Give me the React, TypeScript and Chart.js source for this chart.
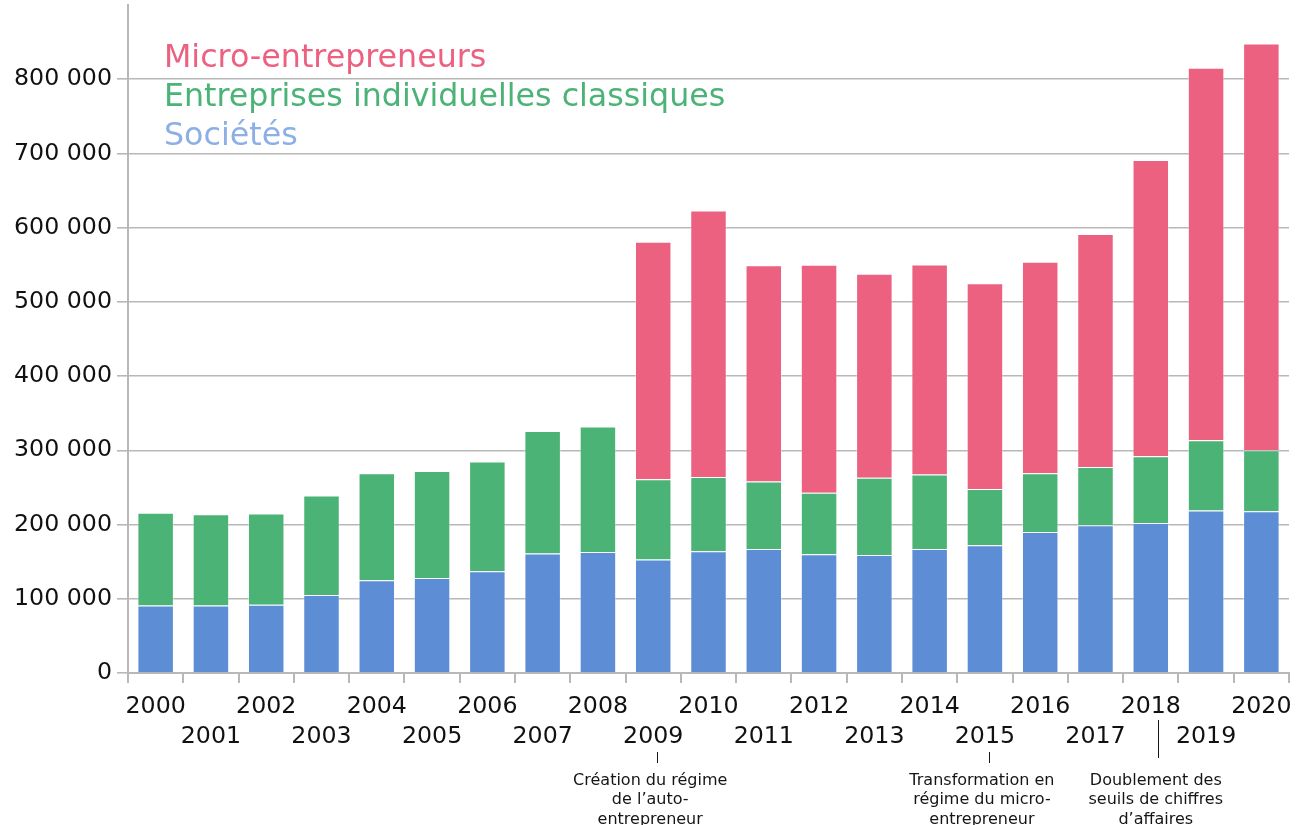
import React, { useEffect, useRef } from 'react';
import { Chart, registerables } from 'chart.js';

Chart.register(...registerables);

const categories = [
  '2000', '2001', '2002', '2003', '2004', '2005', '2006', '2007', '2008', '2009', '2010',
  '2011', '2012', '2013', '2014', '2015', '2016', '2017', '2018', '2019', '2020',
];

const societes = [
  91000, 91000, 92000, 105000, 125000, 128000, 137000, 161000, 163000, 153000, 164000,
  167000, 160000, 159000, 167000, 172000, 190000, 199000, 202000, 219000, 218000,
];

const eiClassiques = [
  125000, 123000, 123000, 134000, 144000, 144000, 148000, 165000, 169000, 108000, 100000,
  91000, 83000, 104000, 100500, 76000, 79000, 78500, 90000, 94500, 82000,
];

const microEntrepreneurs = [
  null, null, null, null, null, null, null, null, null, 320000, 359000,
  291500, 307000, 275000, 283000, 277000, 285000, 314000, 399000, 502000, 548000,
];

const seriesLabels = ['Sociétés', 'Entreprises individuelles classiques', 'Micro-entrepreneurs'];

const yMin = 0;
const yMax = 900000;
const yStep = 100000;

const annotations = [
  { year: '2009', lines: ['Création du régime', 'de l’auto-', 'entrepreneur'], tall: false },
  { year: '2015', lines: ['Transformation en', 'régime du micro-', 'entrepreneur'], tall: false },
  { year: '2018', lines: ['Doublement des', 'seuils de chiffres', 'd’affaires'], tall: true },
];

const COLORS = {
  micro: '#ec6080',
  ei: '#4bb375',
  soc: '#5d8ed5',
  socLegend: '#8cafe5',
  grid: '#b8b8b8',
  text: '#111111',
};

const FONT = "'DejaVu Sans', Verdana, sans-serif";

const fmt = (v: number) => String(v).replace(/\B(?=(\d{3})+(?!\d))/g, ' ');

const overlayPlugin = {
  id: 'overlayText',
  afterDraw(chart: any) {
    const ctx = chart.ctx as CanvasRenderingContext2D;
    const x = chart.scales.x;
    ctx.save();
    // legend (top-left, inside plot)
    ctx.font = `31.7px ${FONT}`;
    ctx.textAlign = 'left';
    ctx.textBaseline = 'alphabetic';
    const legendItems = [
      { text: seriesLabels[2], color: COLORS.micro },
      { text: seriesLabels[1], color: COLORS.ei },
      { text: seriesLabels[0], color: COLORS.socLegend },
    ];
    legendItems.forEach((it, i) => {
      ctx.fillStyle = it.color;
      ctx.fillText(it.text, 164, 67 + i * 39);
    });

    // annotations below the x axis
    ctx.font = `16px ${FONT}`;
    ctx.textAlign = 'center';
    ctx.fillStyle = '#151515';
    ctx.strokeStyle = '#151515';
    ctx.lineWidth = 1;
    annotations.forEach((a) => {
      const idx = categories.indexOf(a.year);
      const cx = x.getPixelForValue(idx);
      const lx = Math.round(cx + (a.tall ? 7 : 4)) + 0.5;
      ctx.beginPath();
      if (a.tall) {
        ctx.moveTo(lx, 720);
        ctx.lineTo(lx, 758);
      } else {
        ctx.moveTo(lx, 752);
        ctx.lineTo(lx, 763);
      }
      ctx.stroke();
      const tx = cx + (a.tall ? 5 : -3);
      a.lines.forEach((line, i) => {
        ctx.fillText(line, tx, 784.5 + i * 19.5);
      });
    });
    ctx.restore();
  },
};

export default function App() {
  const canvasRef = useRef<HTMLCanvasElement | null>(null);

  useEffect(() => {
    if (!canvasRef.current) return;
    Chart.defaults.font.family = FONT;
    const chart = new Chart(canvasRef.current, {
      type: 'bar',
      data: {
        labels: categories,
        datasets: [
          {
            label: seriesLabels[0],
            data: societes,
            backgroundColor: COLORS.soc,
            borderColor: 'rgba(255,255,255,0.35)',
            borderWidth: 1,
          },
          {
            label: seriesLabels[1],
            data: eiClassiques,
            backgroundColor: COLORS.ei,
            borderColor: 'rgba(255,255,255,0.35)',
            borderWidth: 1,
          },
          {
            label: seriesLabels[2],
            data: microEntrepreneurs,
            backgroundColor: COLORS.micro,
            borderColor: 'rgba(255,255,255,0.35)',
            borderWidth: 1,
          },
        ],
      },
      options: {
        animation: false,
        responsive: true,
        maintainAspectRatio: false,
        layout: { padding: { left: 0, top: 5, right: 20, bottom: 0 } },
        datasets: {
          bar: { categoryPercentage: 1, barPercentage: 0.66 },
        },
        plugins: {
          legend: { display: false },
          tooltip: { enabled: false },
        },
        scales: {
          x: {
            stacked: true,
            offset: true,
            grid: {
              offset: true,
              drawOnChartArea: false,
              drawTicks: true,
              tickLength: 10,
              color: COLORS.grid,
              lineWidth: 2,
            },
            border: { display: true, color: COLORS.grid, width: 2 },
            ticks: {
              autoSkip: false,
              maxRotation: 0,
              minRotation: 0,
              padding: 9,
              color: COLORS.text,
              font: { size: 23.7, lineHeight: 1.25 },
              callback: (_v: any, idx: number) =>
                idx % 2 ? ['', categories[idx]] : categories[idx],
            },
            afterFit: (scale: any) => {
              scale.height = 152;
              scale.paddingLeft = 0;
              scale.paddingRight = 0;
            },
          },
          y: {
            stacked: true,
            min: yMin,
            max: yMax,
            grid: {
              color: COLORS.grid,
              lineWidth: 1.6,
              tickLength: 11,
              drawTicks: true,
            },
            border: { display: true, color: COLORS.grid, width: 2 },
            ticks: {
              stepSize: yStep,
              padding: 5,
              color: COLORS.text,
              font: { size: 23.7 },
              callback: (v: any) => fmt(Number(v)),
            },
            afterBuildTicks: (axis: any) => {
              axis.ticks = axis.ticks.filter((t: any) => t.value < yMax);
            },
            afterFit: (scale: any) => {
              scale.width = 128;
              scale.paddingTop = 0;
              scale.paddingBottom = 0;
            },
          },
        },
      },
      plugins: [overlayPlugin],
    } as any);
    return () => chart.destroy();
  }, []);

  return (
    <div style={{ position: 'absolute', left: 0, top: 0, width: 1309, height: 825 }}>
      <canvas ref={canvasRef} />
    </div>
  );
}
